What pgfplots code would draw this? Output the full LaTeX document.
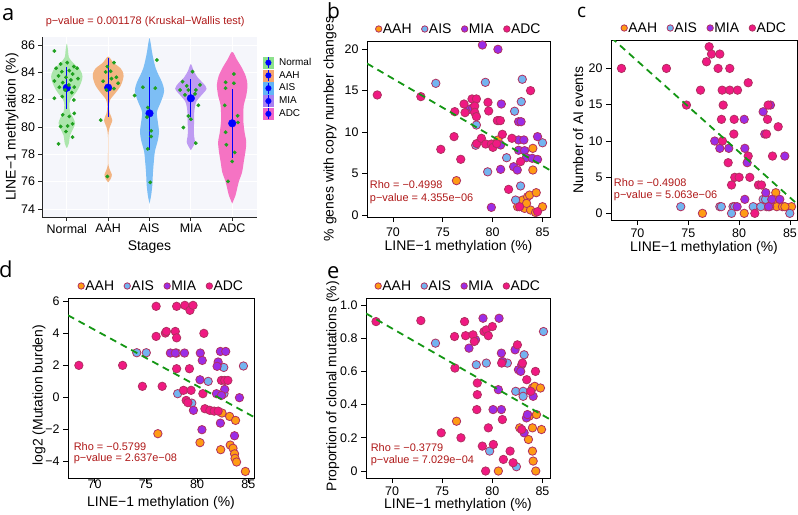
\documentclass[border=0pt]{standalone}
\usepackage{pgfplots}
\pgfplotsset{compat=1.18}
\usepackage{pgfplotstable}
\usepackage{fontspec}
\setmainfont{Liberation Sans}
\newfontfamily\lblfont{Open Sans}

\definecolor{ptout}{RGB}{176,48,96}
\definecolor{cAAH}{RGB}{255,155,20}
\definecolor{cAIS}{RGB}{115,180,240}
\definecolor{cMIA}{RGB}{155,45,230}
\definecolor{cADC}{RGB}{240,25,130}
\definecolor{regr}{RGB}{20,150,20}
\definecolor{annot}{RGB}{175,25,25}
\definecolor{bgA}{RGB}{245,246,251}
\definecolor{vN}{RGB}{172,230,172}
\definecolor{vAAH}{RGB}{242,180,130}
\definecolor{vAIS}{RGB}{125,190,245}
\definecolor{vMIA}{RGB}{190,155,242}
\definecolor{vADC}{RGB}{245,115,195}
\definecolor{lN}{RGB}{140,225,140}
\definecolor{lAAH}{RGB}{245,165,110}
\definecolor{lAIS}{RGB}{100,180,245}
\definecolor{lMIA}{RGB}{170,130,240}
\definecolor{lADC}{RGB}{240,100,200}
\definecolor{jit}{RGB}{30,160,30}

\pgfplotstableread{
x y
0.70 85.56
0.85 84.61
1.01 84.71
1.17 84.42
1.25 84.30
0.74 84.30
0.88 84.05
1.06 84.13
1.14 83.88
0.80 83.74
0.98 83.64
1.10 83.44
1.27 83.54
0.70 83.37
0.90 83.25
1.05 83.08
1.18 82.91
0.82 82.91
0.96 82.71
1.12 82.52
0.89 82.23
0.70 82.10
1.17 81.98
1.18 81.00
1.06 80.77
0.90 80.89
1.14 80.23
1.02 80.08
0.85 80.04
0.98 79.67
1.14 79.26
0.80 78.77
2.14 84.71
1.98 84.42
1.94 84.03
2.06 84.08
2.20 83.64
2.08 83.54
1.88 83.35
2.24 83.20
1.96 82.71
2.14 82.81
1.82 80.50
1.98 76.38
3.18 84.90
2.84 82.91
3.14 82.84
2.64 82.30
2.96 81.42
2.94 80.72
3.04 79.72
3.04 79.31
2.96 78.40
3.02 75.95
4.04 84.05
3.80 83.32
4.22 83.08
3.90 83.01
3.74 82.71
3.94 82.71
4.12 82.71
3.86 82.35
4.10 82.42
4.18 81.59
3.94 80.81
4.00 80.57
3.82 79.96
4.12 78.82
5.04 83.20
4.84 83.27
4.84 82.84
4.82 81.59
5.13 80.82
5.14 80.33
4.84 79.62
4.86 78.70
5.06 78.14
5.00 77.48
4.90 76.02
5.04 83.88
}\jitA

\tikzset{ann/.style={anchor=west, text=annot, font=\fontsize{11}{11}\selectfont, inner sep=0pt}}
\pgfplotsset{
  pt/.style={only marks, mark=*, mark size=4.2bp, mark options={draw=ptout, line width=0.8bp, fill=#1}},
  vleg/.style={legend image code/.code={\fill[#1] (0bp,-5.6bp) rectangle (10bp,5.6bp); \draw[blue,line width=1.2bp] (5bp,-5.6bp)--(5bp,5.6bp); \fill[blue] (5bp,0bp) circle (2.8bp);}},
  viol/.style={fill=#1, draw=none, mark=none, smooth, tension=0.5, forget plot},
  scat/.style={
    scale only axis, anchor=north west,
    xmin=67.4, xmax=85.75, xtick={70,75,80,85},
    tick align=outside, tick pos=left,
    major tick length=5bp,
    tick style={black, line width=0.7bp},
    axis line style={black, line width=0.8bp},
    ticklabel style={font=\fontsize{12.5}{13}\selectfont},
    /pgf/number format/assume math mode=true,
    label style={font=\fontsize{14}{15}\selectfont},
    clip mode=individual,
    legend style={draw=none, fill=none, legend columns=4, at={(axis description cs:0.5,1)}, anchor=center, yshift=12bp, inner sep=0pt, font=\fontsize{14}{14}\selectfont, nodes={inner sep=1bp}, /tikz/every even column/.append style={column sep=9bp}},
    legend image code/.code={\draw[##1, mark size=3.2bp] plot coordinates {(0bp,0bp)};},
  },
  rline/.style={regr, line width=1.8bp, dash pattern=on 7bp off 5bp, forget plot},
}

\begin{document}
\begin{tikzpicture}
\path[use as bounding box] (0,0) rectangle (798bp,-515bp);

% ================= panel a =================
\begin{axis}[
  scale only axis, at={(42bp,-37bp)}, anchor=north west, width=215bp, height=180bp,
  xmin=0.4, xmax=5.6, ymin=73.415, ymax=86.585,
  xtick={1,2,3,4,5}, xticklabels={Normal,AAH,AIS,MIA,ADC},
  ytick={74,76,78,80,82,84,86},
  axis x line*=bottom, axis y line*=left,
  axis line style={line width=0.8bp, black!85, -},
  tick align=outside, major tick length=3.5bp, tick style={black!85, line width=0.7bp},
  axis background/.style={fill=bgA},
  xmajorgrids, ymajorgrids, major grid style={white, line width=0.7bp},
  ticklabel style={font=\fontsize{12.5}{13}\selectfont},
  /pgf/number format/assume math mode=true,
  xlabel={Stages}, ylabel={LINE−1 methylation (\%)},
  label style={font=\fontsize{14}{15}\selectfont},
  xlabel style={at={(axis description cs:0.5,-0.167)}, anchor=center},
  ylabel style={at={(axis description cs:-0.14,0.5)}, anchor=center},
  title={p−value = 0.001178 (Kruskal−Wallis test)},
  title style={font=\fontsize{11}{11}\selectfont, color=annot, at={(axis description cs:0.48,1.052)}, anchor=center},
  legend style={draw=none, fill=none, at={(axis description cs:1.028,0.893)}, anchor=north west, inner sep=0pt, font=\fontsize{10}{10}\selectfont, row sep=0.4bp, nodes={inner sep=0.5bp, anchor=west}, /tikz/every odd column/.append style={column sep=5bp}},
]
\addplot[viol=vN] coordinates {(1,78.44) (1.05,78.8) (1.08,79.4) (1.16,79.9) (1.20,80.3) (1.15,80.7) (1.08,81.1) (1.06,81.6) (1.09,82.0) (1.24,82.6) (1.34,83.2) (1.38,83.7) (1.32,84.2) (1.15,84.7) (1.05,85.1) (1.03,85.6) (1,86.1)
 (0.97,85.6) (0.95,85.1) (0.85,84.7) (0.68,84.2) (0.62,83.7) (0.66,83.2) (0.76,82.6) (0.91,82.0) (0.94,81.6) (0.92,81.1) (0.85,80.7) (0.80,80.3) (0.84,79.9) (0.92,79.4) (0.95,78.8) (1,78.44)};
\addplot[viol=vAAH] coordinates {(2,75.95) (2.06,76.2) (2.09,76.5) (2.05,76.8) (2.01,77.2) (2.004,78) (2.004,79.3) (2.03,79.9) (2.10,80.5) (2.04,81.0) (2.02,81.5) (2.05,82.0) (2.18,82.5) (2.30,83.0) (2.36,83.5) (2.37,83.9) (2.30,84.3) (2.13,84.7) (2,85.15)
 (1.87,84.7) (1.70,84.3) (1.63,83.9) (1.64,83.5) (1.70,83.0) (1.82,82.5) (1.95,82.0) (1.98,81.5) (1.96,81.0) (1.90,80.5) (1.97,79.9) (1.996,79.3) (1.996,78) (1.99,77.2) (1.95,76.8) (1.91,76.5) (1.94,76.2) (2,75.95)};
\addplot[viol=vAIS] coordinates {(3,74.4) (3.04,75.0) (3.07,75.8) (3.08,76.5) (3.10,77.3) (3.13,78.2) (3.20,79.0) (3.23,79.66) (3.20,80.4) (3.18,81.1) (3.27,81.8) (3.34,82.4) (3.35,82.8) (3.30,83.3) (3.22,83.8) (3.15,84.3) (3.10,84.9) (3.06,85.5) (3.03,86.1) (3,86.5)
 (2.97,86.1) (2.94,85.5) (2.90,84.9) (2.85,84.3) (2.78,83.8) (2.70,83.3) (2.65,82.8) (2.66,82.4) (2.73,81.8) (2.82,81.1) (2.80,80.4) (2.77,79.66) (2.80,79.0) (2.87,78.2) (2.90,77.3) (2.92,76.5) (2.93,75.8) (2.96,75.0) (3,74.4)};
\addplot[viol=vMIA] coordinates {(4,78.3) (4.06,78.6) (4.10,78.9) (4.08,79.3) (4.07,79.8) (4.08,80.4) (4.08,81.0) (4.10,81.5) (4.14,81.9) (4.25,82.3) (4.38,82.8) (4.30,83.2) (4.17,83.6) (4.07,84.1) (4,84.6)
 (3.93,84.1) (3.83,83.6) (3.70,83.2) (3.62,82.8) (3.75,82.3) (3.86,81.9) (3.90,81.5) (3.92,81.0) (3.92,80.4) (3.93,79.8) (3.92,79.3) (3.90,78.9) (3.94,78.6) (4,78.3)};
\addplot[viol=vADC] coordinates {(5,74.4) (5.08,75.0) (5.12,75.5) (5.16,76.0) (5.24,76.7) (5.28,77.46) (5.32,78.2) (5.34,78.9) (5.30,79.6) (5.27,80.4) (5.27,81.0) (5.28,81.6) (5.34,82.3) (5.37,83.07) (5.33,83.7) (5.24,84.3) (5.12,84.9) (5,85.5)
 (4.88,84.9) (4.76,84.3) (4.67,83.7) (4.63,83.07) (4.66,82.3) (4.72,81.6) (4.73,81.0) (4.73,80.4) (4.70,79.6) (4.66,78.9) (4.68,78.2) (4.72,77.46) (4.76,76.7) (4.84,76.0) (4.88,75.5) (4.92,75.0) (5,74.4)};
\addplot[only marks, mark=*, mark size=3.8bp, blue, forget plot,
  error bars/.cd, y dir=both, y explicit, error mark=none, error bar style={blue, line width=1.3bp}]
  coordinates {(1,82.87) +- (0,1.55) (2,82.88) +- (0,2.18) (3,81.0) +- (0,2.66) (4,82.1) +- (0,1.39) (5,80.27) +- (0,2.52)};
\addplot[only marks, mark=*, mark size=1.7bp, color=jit, forget plot] table{\jitA};
\addlegendimage{vleg=lN}\addlegendentry{Normal}
\addlegendimage{vleg=lAAH}\addlegendentry{AAH}
\addlegendimage{vleg=lAIS}\addlegendentry{AIS}
\addlegendimage{vleg=lMIA}\addlegendentry{MIA}
\addlegendimage{vleg=lADC}\addlegendentry{ADC}
\node[anchor=west, font=\fontsize{10.5}{10.5}\selectfont, inner sep=0pt] at (axis description cs:1.028,0.956) {Stages};
\end{axis}

% ================= panel b =================
\begin{axis}[scat, at={(367bp,-41bp)}, width=183bp, height=176bp,
  ymin=-0.24, ymax=20.96, ytick={0,5,10,15,20},
  xticklabel style={yshift=-2bp},
  xlabel={LINE−1 methylation (\%)}, ylabel={\% genes with copy number changes},
  xlabel style={at={(axis description cs:0.5,-0.168)}, anchor=center},
  ylabel style={at={(axis description cs:-0.202,0.5)}, anchor=center}]
\addplot[pt=cAAH] coordinates {(76.37,4.14) (80.53,9.04) (84.03,8.03) (84.03,5.42) (82.5,1.0) (83.0,1.8) (83.5,2.2) (83.7,2.4) (84.37,2.69) (83.2,0.8) (83.8,0.6) (84.3,0.3) (85.0,1.0) (83.4,1.4)};
\addlegendentry{AAH}
\addplot[pt=cAIS] coordinates {(74.3,15.86) (79.27,15.98) (82.97,16.35) (78.37,10.84) (78.3,8.4) (81.4,6.9) (82.2,12.5) (82.87,13.65) (82.8,3.5) (82.3,1.8) (85.0,8.7) (79.5,5.2)};
\addlegendentry{AIS}
\addplot[pt=cMIA] coordinates {(78.97,20.48) (80.53,19.96) (77.7,12.73) (78.0,12.9) (80.87,13.37) (80.6,11.37) (82.6,11.24) (82.85,11.24) (84.5,9.44) (80.8,8.43) (82.6,9.04) (83.13,9.04) (82.6,7.8) (83.2,7.75) (83.37,6.91) (83.97,6.83) (80.8,5.5) (82.1,5.82) (82.47,5.42) (79.87,0.92) (84.5,6.7)};
\addlegendentry{MIA}
\addplot[pt=cADC] coordinates {(68.43,14.46) (72.8,14.26) (74.8,7.91) (76.13,9.44) (76.8,6.71) (76.2,12.45) (77.13,13.37) (77.23,12.33) (77.93,13.98) (78.37,13.98) (78.2,13.13) (78.2,12.37) (78.37,11.85) (79.53,13.57) (79.6,12.53) (80.47,11.37) (80.77,11.37) (78.4,8.6) (78.87,9.24) (79.3,8.55) (79.87,8.55) (80.03,8.15) (80.4,8.6) (80.97,9.72) (81.93,9.24) (82.8,6.43) (81.6,3.09) (83.8,14.98) (82.7,1.0) (84.5,0.4)};
\addlegendentry{ADC}
\addplot[rline] coordinates {(67.4,18.25) (85.75,5.4)};
\node[ann] at (axis description cs:0.015,0.183) {Rho = −0.4998};
\node[ann] at (axis description cs:0.015,0.103) {p−value = 4.355e−06};
\end{axis}

% ================= panel c =================
\begin{axis}[scat, at={(611bp,-40bp)}, width=186bp, height=180bp,
  xmax=85.69,
  ymin=-0.92, ymax=23.92, ytick={0,5,10,15,20},
  xlabel={LINE−1 methylation (\%)}, ylabel={Number of AI events},
  xlabel style={at={(axis description cs:0.5,-0.156)}, anchor=center},
  ylabel style={at={(axis description cs:-0.177,0.5)}, anchor=center}]
\addplot[pt=cAAH] coordinates {(83.6,2.85) (83.5,1.84) (83.7,0.92) (84.26,0.92) (85.15,0.92) (76.39,0) (80.5,0) (84.5,0.92)};
\addlegendentry{AAH}
\addplot[pt=cAIS] coordinates {(82.36,1.93) (82.7,0.92) (83.0,0.92) (74.26,0.92) (78.1,0.92) (78.25,0.92) (79.4,0.92) (79.55,0.92) (81.38,0.92) (82.13,0.92) (79.25,0) (84.98,0) (82.6,1.93)};
\addlegendentry{AIS}
\addplot[pt=cMIA] coordinates {(80.5,12.97) (77.6,9.98) (78.1,8.97) (78.98,8.97) (80.56,8.97) (80.79,6.99) (82.36,14.02) (83.08,14.94) (82.52,10.94) (84.49,7.9) (82.62,2.85) (79.8,0.92) (83.2,1.93) (84.0,1.93) (82.9,0.92) (80.56,1.93)};
\addlegendentry{MIA}
\addplot[pt=cADC] coordinates {(68.43,20.0) (72.85,20.0) (74.82,14.94) (76.2,17.0) (76.79,20.92) (77.05,22.99) (77.28,21.98) (78.1,21.98) (77.93,20.0) (79.08,20.0) (78.33,17.0) (79.08,17.0) (79.84,17.0) (80.89,18.02) (78.43,14.94) (78.26,12.97) (79.51,12.97) (79.48,10.94) (78.36,9.98) (78.92,6.99) (80.89,7.9) (79.57,4.97) (80.0,4.97) (79.25,3.91) (81.05,4.97) (82.85,14.94) (82.69,10.94) (82.79,12.97) (83.84,11.95) (83.28,7.9) (81.9,3.91) (82.2,3.91) (81.54,0)};
\addlegendentry{ADC}
\addplot[rline] coordinates {(67.4,24.28) (85.69,1.31)};
\node[ann] at (axis description cs:0.015,0.206) {Rho = −0.4908};
\node[ann] at (axis description cs:0.015,0.133) {p−value = 5.063e−06};
\end{axis}

% ================= panel d =================
\begin{axis}[scat, at={(68bp,-298bp)}, width=186bp, height=180bp,
  xmax=85.55,
  ymin=-5.06, ymax=6.19, ytick={-4,-2,0,2,4,6}, yticklabels={−4,−2,0,2,4,6},
  xticklabel style={yshift=3.5bp, inner sep=0.5bp},
  xlabel={LINE−1 methylation (\%)}, ylabel={log2 (Mutation burden)},
  xlabel style={at={(axis description cs:0.5,-0.136)}, anchor=center, inner sep=0.5bp},
  ylabel style={at={(axis description cs:-0.156,0.46)}, anchor=center}]
\addplot[pt=cAAH] coordinates {(76.17,-2.29) (82.43,-1.0) (80.28,-2.85) (83.17,-1.21) (83.75,-1.46) (82.3,-3.29) (83.23,-3.0) (83.5,-3.2) (83.65,-3.55) (83.7,-3.83) (83.85,-4.06) (84.71,-4.65)};
\addlegendentry{AAH}
\addplot[pt=cAIS] coordinates {(74.11,2.77) (75.04,2.77) (78.0,2.75) (78.1,0.21) (79.48,-0.38) (81.08,0.98) (82.62,0.21) (84.52,1.94) (82.6,1.85)};
\addlegendentry{AIS}
\addplot[pt=cMIA] coordinates {(77.39,2.75) (77.87,2.75) (78.77,2.75) (80.31,2.75) (80.5,2.29) (79.64,-0.83) (80.28,1.08) (80.47,-2.04) (82.27,2.85) (82.79,2.85) (82.05,2.19) (81.95,1.92) (82.69,0.48) (81.89,0.21) (82.37,0.1) (82.27,-1.63) (84.13,-0.04) (83.65,-2.42)};
\addlegendentry{MIA}
\addplot[pt=cADC] coordinates {(68.46,1.98) (72.73,1.98) (74.66,0.67) (76.0,5.67) (76.0,3.79) (76.59,0.67) (76.9,4.0) (77.0,4.1) (77.87,4.1) (78.0,3.7) (78.0,1.77) (79.25,1.77) (78.0,5.67) (78.8,5.73) (79.3,5.42) (79.6,5.73) (78.67,0.42) (79.41,0.42) (80.66,3.98) (80.56,0.21) (78.93,-0.21) (79.1,-0.35) (80.76,-0.73) (81.24,-0.83) (81.66,-0.88) (82.05,-0.88) (82.37,1.04) (82.69,1.04) (83.0,1.04)};
\addlegendentry{ADC}
\addplot[rline] coordinates {(67.4,5.11) (85.55,-1.25)};
\node[ann] at (axis description cs:0.03,0.172) {Rho = −0.5799};
\node[ann] at (axis description cs:0.03,0.106) {p−value = 2.637e−08};
\end{axis}

% ================= panel e =================
\begin{axis}[scat, at={(366bp,-298bp)}, width=184bp, height=180bp,
  ymin=-0.042, ymax=1.042, ytick={0,0.2,0.4,0.6,0.8,1}, yticklabels={0,0.2,0.4,0.6,0.8,1.0},
  xlabel={LINE−1 methylation (\%)}, ylabel={Proportion of clonal mutations (\%)},
  xlabel style={at={(axis description cs:0.5,-0.15)}, anchor=center},
  ylabel style={at={(axis description cs:-0.18,0.51)}, anchor=center}]
\addplot[pt=cAAH] coordinates {(76.43,0.30) (80.6,0.0) (84.0,0.50) (83.67,0.33) (82.73,0.26) (83.6,0.19) (84.0,0.26) (84.0,0.12) (84.23,0.51) (84.4,0.34) (84.07,0.06) (84.33,0.0) (84.8,0.5) (84.9,0.25)};
\addlegendentry{AAH}
\addplot[pt=cAIS] coordinates {(74.33,0.77) (78.4,0.64) (79.4,0.65) (79.73,0.12) (81.5,0.65) (82.4,0.026) (83.17,0.70) (82.33,0.48) (83.07,0.48) (83.07,0.45) (85.1,0.84)};
\addlegendentry{AIS}
\addplot[pt=cMIA] coordinates {(77.67,0.74) (78.33,0.79) (79.07,0.92) (80.07,0.37) (80.67,0.92) (80.6,0.49) (80.9,0.71) (81.0,0.66) (80.9,0.37) (82.27,0.73) (82.6,0.61) (82.93,0.64) (82.83,0.60) (84.07,0.45) (83.4,0.32) (83.17,0.23) (83.5,0.34)};
\addlegendentry{MIA}
\addplot[pt=cADC] coordinates {(68.4,0.90) (72.87,0.906) (74.9,0.23) (76.87,0.20) (76.23,0.81) (76.27,0.62) (77.23,0.90) (77.33,0.815) (78.07,0.82) (78.2,0.78) (78.5,0.53) (78.5,0.46) (78.45,0.37) (79.0,0.15) (79.17,0.84) (79.4,0.85) (79.6,0.815) (79.33,0.0) (80.1,0.16) (80.0,0.87) (80.93,0.65) (81.0,0.31) (81.1,0.07) (81.77,0.12) (82.07,0.05) (82.5,0.76) (83.0,0.65) (83.43,0.55) (83.83,0.48) (82.93,0.25) (79.6,0.26) (84.3,0.6)};
\addlegendentry{ADC}
\addplot[rline] coordinates {(67.4,0.949) (85.75,0.311)};
\node[ann] at (axis description cs:0.025,0.168) {Rho = −0.3779};
\node[ann] at (axis description cs:0.025,0.096) {p−value = 7.029e−04};
\end{axis}

% panel letters
\node[anchor=base west, inner sep=0pt, font=\lblfont\fontsize{22}{22}\selectfont] at (2bp,-20bp) {a};
\node[anchor=base west, inner sep=0pt, font=\lblfont\fontsize{21}{21}\selectfont] at (327bp,-18bp) {b};
\node[anchor=base west, inner sep=0pt, font=\lblfont\fontsize{19}{19}\selectfont] at (577bp,-17.5bp) {c};
\node[anchor=base west, inner sep=0pt, font=\lblfont\fontsize{22}{22}\selectfont] at (-1bp,-277bp) {d};
\node[anchor=base west, inner sep=0pt, font=\lblfont\fontsize{22}{22}\selectfont] at (327bp,-278bp) {e};
\end{tikzpicture}
\end{document}
